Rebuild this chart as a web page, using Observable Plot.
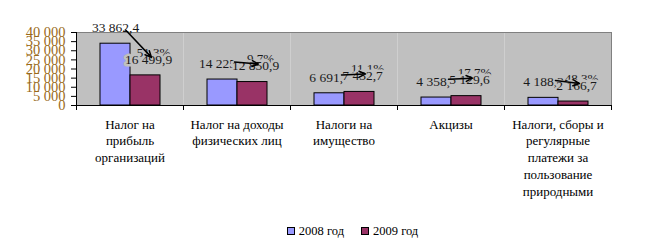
<!DOCTYPE html>
<html><head><meta charset="utf-8">
<script src="https://cdn.jsdelivr.net/npm/d3@7"></script>
<script src="https://cdn.jsdelivr.net/npm/@observablehq/plot@0.6"></script>
<style>
body{margin:0;background:#fff;font-family:"Liberation Serif",serif;}
#chart{width:651px;}
.legend{display:flex;justify-content:center;align-items:center;gap:17px;font-size:12.5px;height:18px;padding-left:54px;color:#000;}
.legend span{display:inline-flex;align-items:center;}
.sw{display:inline-block;width:6px;height:6px;border:1px solid #000;margin-right:4px;}
</style></head><body><div id="chart"></div>
<script>
const categories = [
  "Налог на\nприбыль\nорганизаций",
  "Налог на доходы\nфизических лиц",
  "Налоги на\nимущество",
  "Акцизы",
  "Налоги, сборы и\nрегулярные\nплатежи за\nпользование\nприродными"
];
const years = ["2008 год", "2009 год"];
const values2008 = [33862.4, 14225.0, 6691.7, 4358.0, 4188.3];
const values2009 = [16499.9, 12850.9, 7432.7, 5129.6, 2166.7];
const yTicks = [0, 5000, 10000, 15000, 20000, 25000, 30000, 35000, 40000];
const colors = ["#9999ff", "#993366"];

const locale = d3.formatLocale({decimal: ",", thousands: " ", grouping: [3], currency: ["", ""]});
const fmt1 = locale.format(",.1f");
const fmtInt = locale.format(",d");

const rows = [];
categories.forEach((c, i) => {
  rows.push({category: c, year: years[0], value: values2008[i]});
  rows.push({category: c, year: years[1], value: values2009[i]});
});
const changes = categories.map((c, i) => ({
  category: c, v1: values2008[i], v2: values2009[i],
  pct: fmt1(Math.abs(values2009[i] / values2008[i] - 1) * 100) + "%"
}));

const W = 651, H = 222, mT = 32, mB = 117, mL = 75, mR = 40;
const plotH = H - mT - mB;
const textColor = "#1a1a1a";

const chart = Plot.plot({
  width: W, height: H,
  marginLeft: mL, marginRight: mR, marginTop: mT, marginBottom: mB,
  style: {fontFamily: "'Liberation Serif', serif", fontSize: "13px", background: "white", color: "#000", overflow: "visible"},
  fx: {domain: categories, padding: 0, label: null, axis: null},
  x: {domain: years, paddingInner: 0, paddingOuter: 0.754, axis: null},
  y: {domain: [0, 40000], axis: null},
  color: {domain: years, range: colors},
  marks: [
    Plot.frame({fill: "#c0c0c0"}),
    Plot.frame({anchor: "top", stroke: "#808080"}),
    Plot.frame({anchor: "right", stroke: "#808080", facetAnchor: "right"}),
    Plot.barY(rows, {fx: "category", x: "year", y: "value", fill: "year", stroke: "black", strokeWidth: 1}),
    Plot.frame({anchor: "left", stroke: "black", facetAnchor: "left"}),
    Plot.frame({anchor: "bottom", stroke: "black"}),
    Plot.frame({anchor: "left", stroke: "black", insetTop: plotH, insetBottom: -4}),
    Plot.frame({anchor: "right", stroke: "black", insetTop: plotH, insetBottom: -4, facetAnchor: "right"}),
    Plot.axisY({ticks: yTicks, tickSize: 5, tickPadding: 6, tickFormat: fmtInt, fill: "#9a6a1a", stroke: "black", fontSize: 14.5, label: null}),
    Plot.axisFx({anchor: "bottom", tickSize: 0, tickPadding: 11, label: null, lineHeight: 1.3, fontSize: 13, fill: "#000"}),
    Plot.text(changes, {fx: "category", x: () => years[1], y: "v2", text: "pct", dy: -23, dx: 8, fill: textColor, fontSize: 13}),
    Plot.text(rows.filter(d => d.year === years[0]), {fx: "category", x: "year", y: "value", text: d => fmt1(d.value), dy: -16, fill: textColor, fontSize: 13.5}),
    Plot.text(rows.filter(d => d.year === years[1]), {fx: "category", x: "year", y: "value", text: d => fmt1(d.value), dy: -16, dx: 3, fill: textColor, fontSize: 13.5, stroke: "#c0c0c0", strokeWidth: 5}),
    Plot.arrow(changes, {fx: "category", x1: () => years[0], y1: "v1", x2: () => years[1], y2: "v2", dx: 6, dy: -18, insetStart: 6, stroke: "black", strokeWidth: 1.5, headLength: 7, headAngle: 50})
  ]
});
document.getElementById("chart").appendChild(chart);

const legend = document.createElement("div");
legend.className = "legend";
years.forEach((y, i) => {
  const s = document.createElement("span");
  const sw = document.createElement("i");
  sw.className = "sw";
  sw.style.background = colors[i];
  s.appendChild(sw);
  s.appendChild(document.createTextNode(y));
  legend.appendChild(s);
});
document.getElementById("chart").appendChild(legend);
</script>
</body></html>
